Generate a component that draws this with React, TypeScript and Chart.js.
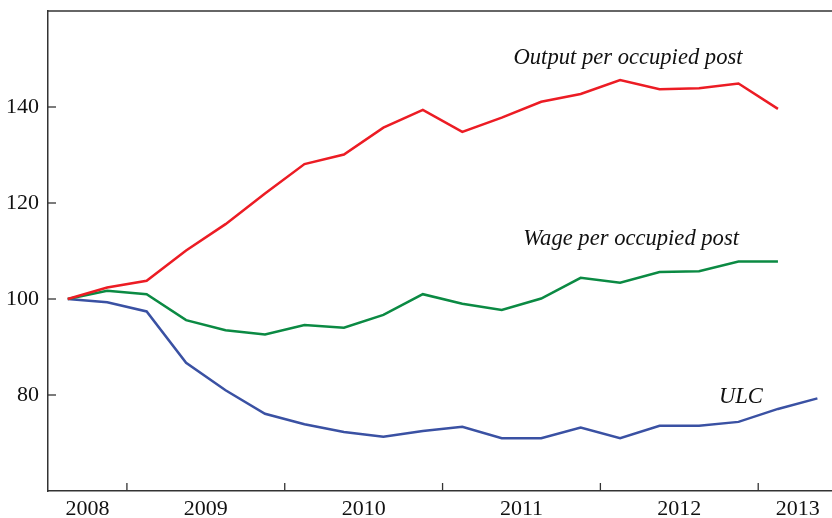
import React, { useEffect, useRef } from "react";
import { Chart, registerables } from "chart.js";

Chart.register(...registerables);

// Quarterly observations, 2008 Q3 onwards (index 0 = 2008 Q3)
const quarters = [
  "2008Q3", "2008Q4", "2009Q1", "2009Q2", "2009Q3", "2009Q4", "2010Q1", "2010Q2",
  "2010Q3", "2010Q4", "2011Q1", "2011Q2", "2011Q3", "2011Q4", "2012Q1", "2012Q2",
  "2012Q3", "2012Q4", "2013Q1", "2013Q2",
];

const outputPerPost = [
  100, 102.4, 103.8, 110.1, 115.6, 122.0, 128.1, 130.1, 135.7, 139.4,
  134.8, 137.8, 141.1, 142.7, 145.6, 143.7, 143.9, 144.9, 139.6,
];

const wagePerPost = [
  100, 101.7, 101.0, 95.6, 93.5, 92.6, 94.6, 94.0, 96.7, 101.0,
  99.0, 97.7, 100.1, 104.4, 103.4, 105.6, 105.8, 107.8, 107.8,
];

const ulc = [
  100, 99.3, 97.4, 86.7, 81.0, 76.1, 73.9, 72.3, 71.3, 72.5,
  73.4, 71.0, 71.0, 73.2, 71.0, 73.6, 73.6, 74.4, 77.1, 79.3,
];

const yearLabels = ["2008", "2009", "2010", "2011", "2012", "2013"];
const yTicks = [80, 100, 120, 140];
const seriesNames = ["Output per occupied post", "Wage per occupied post", "ULC"];

// x positions (quarter index units) of year labels and year boundaries
const yearLabelPos = [0.5, 3.5, 7.5, 11.5, 15.5, 18.5];
const yearBoundaryPos = [1.5, 5.5, 9.5, 13.5, 17.5];
// annotation anchors in data units [x, y]
const annotationPos: [number, number][] = [[14.2, 150.1], [14.28, 112.4], [17.06, 79.6]];

const AXIS = "#333333";
const FONT = "'Liberation Serif', 'Times New Roman', serif";

const toXY = (arr: number[]) => arr.map((v, i) => ({ x: i, y: v }));

export default function App() {
  const ref = useRef<HTMLCanvasElement | null>(null);

  useEffect(() => {
    const canvas = ref.current;
    if (!canvas) return;

    const decor = {
      id: "decor",
      afterDraw(chart: any) {
        const { ctx, chartArea, scales } = chart;
        const xs = scales.x;
        const ys = scales.y;
        ctx.save();
        ctx.strokeStyle = AXIS;
        ctx.lineWidth = 1.5;
        // top border
        ctx.beginPath();
        ctx.moveTo(chartArea.left, chartArea.top);
        ctx.lineTo(chartArea.right, chartArea.top);
        ctx.stroke();
        // inward x ticks
        ctx.lineWidth = 1.3;
        yearBoundaryPos.forEach((v) => {
          const px = xs.getPixelForValue(v);
          ctx.beginPath();
          ctx.moveTo(px, chartArea.bottom);
          ctx.lineTo(px, chartArea.bottom - 8);
          ctx.stroke();
        });
        // inward y ticks
        yTicks.forEach((v) => {
          const py = ys.getPixelForValue(v);
          ctx.beginPath();
          ctx.moveTo(chartArea.left, py);
          ctx.lineTo(chartArea.left + 8, py);
          ctx.stroke();
        });
        // annotations
        ctx.fillStyle = "#111111";
        ctx.font = `italic 22.6px ${FONT}`;
        ctx.textAlign = "center";
        ctx.textBaseline = "middle";
        seriesNames.forEach((name, i) => {
          const [ax, ay] = annotationPos[i];
          ctx.fillText(name, xs.getPixelForValue(ax), ys.getPixelForValue(ay));
        });
        ctx.restore();
      },
    };

    const chart = new Chart(canvas, {
      type: "line",
      data: {
        labels: quarters,
        datasets: [
          { label: seriesNames[0], data: toXY(outputPerPost), borderColor: "#ec1c24", borderWidth: 2.5, pointRadius: 0, fill: false, tension: 0 },
          { label: seriesNames[1], data: toXY(wagePerPost), borderColor: "#0b8a43", borderWidth: 2.5, pointRadius: 0, fill: false, tension: 0 },
          { label: seriesNames[2], data: toXY(ulc), borderColor: "#3a51a3", borderWidth: 2.5, pointRadius: 0, fill: false, tension: 0 },
        ],
      },
      options: {
        responsive: false,
        animation: false,
        layout: { padding: { top: 0, right: 0, left: 0, bottom: 0 } },
        plugins: { legend: { display: false }, tooltip: { enabled: false } },
        scales: {
          x: {
            type: "linear",
            min: -0.5,
            max: 19.37,
            grid: { display: false, drawTicks: false },
            border: { display: true, color: AXIS, width: 1.5 },
            afterBuildTicks: (s: any) => {
              s.ticks = yearLabelPos.map((v) => ({ value: v }));
            },
            afterFit: (s: any) => {
              s.height = 27;
            },
            ticks: {
              autoSkip: false,
              maxRotation: 0,
              padding: 5,
              color: "#111111",
              font: { family: FONT, size: 22 },
              callback: (v: any) => {
                const idx = yearLabelPos.indexOf(Number(v));
                return idx >= 0 ? yearLabels[idx] : "";
              },
            },
          },
          y: {
            min: 60,
            max: 160,
            grid: { display: false, drawTicks: false },
            border: { display: true, color: AXIS, width: 1.5 },
            afterBuildTicks: (s: any) => {
              s.ticks = yTicks.map((v) => ({ value: v }));
            },
            afterFit: (s: any) => {
              s.width = 48;
              s.paddingTop = 11;
              s.paddingBottom = 0;
            },
            ticks: {
              padding: 9,
              color: "#111111",
              font: { family: FONT, size: 22 },
            },
          },
        },
      },
      plugins: [decor],
    } as any);

    return () => chart.destroy();
  }, []);

  return (
    <div style={{ position: "fixed", left: 0, top: 0, width: 832, height: 518, background: "#ffffff" }}>
      <canvas ref={ref} width={832} height={518} style={{ display: "block" }} />
    </div>
  );
}
